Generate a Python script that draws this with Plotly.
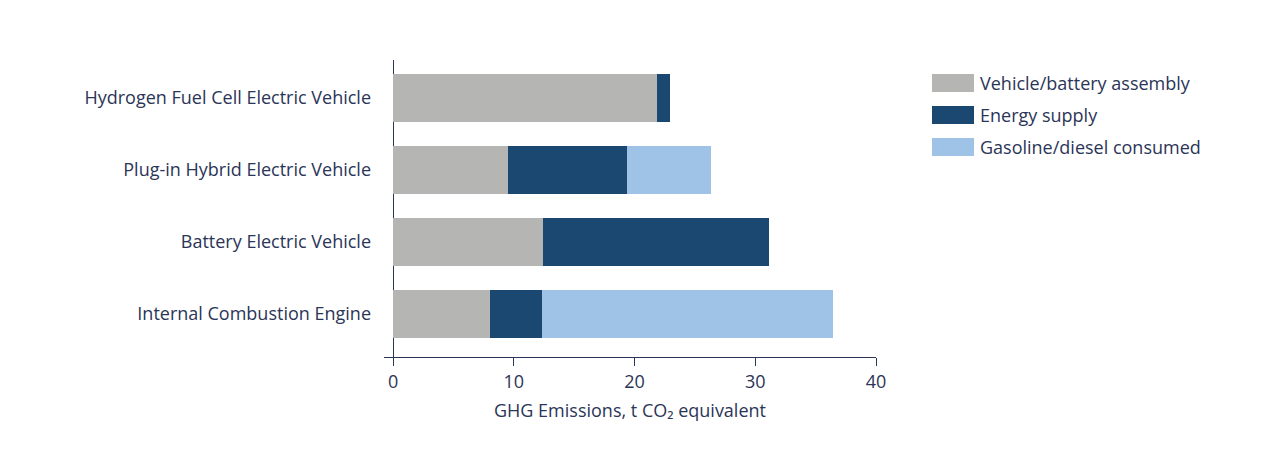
import plotly.graph_objects as go

vehicles = ["Internal Combustion Engine", "Battery Electric Vehicle",
            "Plug-in Hybrid Electric Vehicle", "Hydrogen Fuel Cell Electric Vehicle"]
series_names = ["Vehicle/battery assembly", "Energy supply", "Gasoline/diesel consumed"]
assembly = [8.0, 12.4, 9.5, 21.9]
energy = [4.3, 18.7, 9.9, 1.0]
fuel = [24.1, 0, 6.9, 0]
x_ticks = [0, 10, 20, 30, 40]

colors = ["#b5b5b3", "#1a4870", "#9fc3e7"]
navy = "#2b3557"
font_name = "Open Sans"

fig = go.Figure()
for name, vals, col in zip(series_names, [assembly, energy, fuel], colors):
    fig.add_trace(go.Bar(y=vehicles, x=vals, name=name, orientation="h",
                         marker=dict(color=col, line=dict(width=0)),
                         width=0.667, showlegend=False))

# legend drawn by hand: big swatches + labels, in paper coords
# plot area is 492 x 297 px, left edge at page x=384, bottom at page y=357
shapes = []
annos = []
for i, (name, col) in enumerate(zip(series_names, colors)):
    yc = 83 + i * 32
    ytop = (357 - (yc - 9)) / 297
    ybot = (357 - (yc + 9)) / 297
    shapes.append(dict(type="rect", xref="paper", yref="paper",
                       x0=(932 - 384) / 492, x1=(974 - 384) / 492,
                       y0=ybot, y1=ytop, fillcolor=col, line=dict(width=0)))
    annos.append(dict(xref="paper", yref="paper", x=(978 - 384) / 492,
                      y=(357 - yc) / 297, text=name, showarrow=False,
                      xanchor="left", yanchor="middle",
                      font=dict(size=18, color=navy, family=font_name)))

# page has an 8px body margin, so margins are 8px smaller on left/top
fig.update_layout(
    barmode="stack",
    width=1280, height=468,
    margin=dict(l=376, r=412, t=52, b=119),
    paper_bgcolor="white", plot_bgcolor="white",
    font=dict(family=font_name, color=navy, size=18),
    shapes=shapes, annotations=annos,
    xaxis=dict(range=[-0.75, 40], tickvals=x_ticks, showgrid=False,
               showline=True, linecolor=navy, linewidth=1,
               ticks="outside", ticklen=8, tickcolor=navy,
               zeroline=True, zerolinecolor=navy, zerolinewidth=1,
               tickfont=dict(size=18, color=navy),
               title=dict(text="GHG Emissions, t CO₂ equivalent",
                          font=dict(size=18, color=navy), standoff=12)),
    yaxis=dict(range=[-0.6, 3.53], showgrid=False, showline=False,
               ticks="", ticklabelstandoff=12,
               tickfont=dict(size=18, color=navy)),
)

fig.write_html("out.html")
